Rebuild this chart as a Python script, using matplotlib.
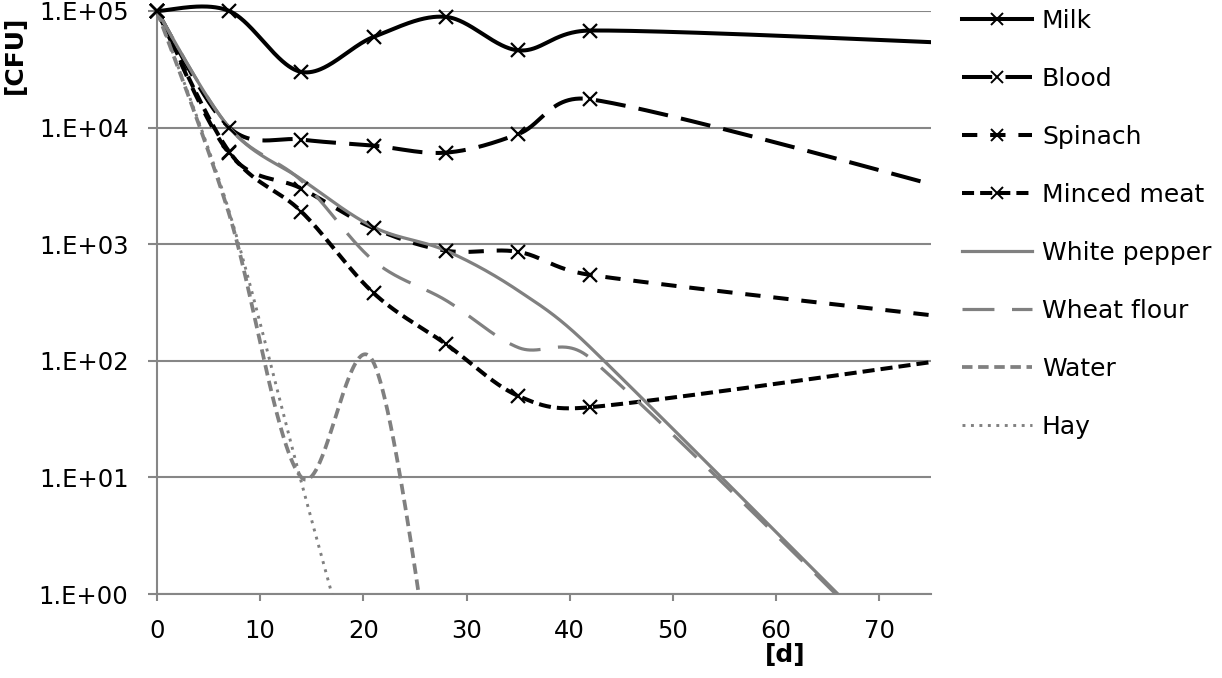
import numpy as np
import matplotlib.pyplot as plt
from matplotlib.lines import Line2D
from matplotlib.patches import Rectangle

plt.rcParams['font.family'] = 'DejaVu Sans'

# sampling days (last point lies beyond the visible axis)
days = [0, 7, 14, 21, 28, 35, 42, 84]
days_water = [0, 7, 14, 21, 28]
days_hay = [0, 7, 14, 21]

# CFU counts
milk = [1.0e5, 1.0e5, 3.0e4, 6.0e4, 8.9e4, 4.6e4, 6.8e4, 5.0e4]
blood = [1.0e5, 1.0e4, 7.9e3, 7.0e3, 6.1e3, 8.8e3, 1.75e4, 2.0e3]
spinach = [1.0e5, 6.0e3, 3.0e3, 1.37e3, 880, 860, 545, 200]
minced_meat = [1.0e5, 6.2e3, 1.9e3, 380, 139, 50, 40, 126]
white_pepper = [1.0e5, 1.0e4, 3.6e3, 1.4e3, 880, 400, 130, 0.025]
wheat_flour = [1.0e5, 1.0e4, 3.5e3, 720, 330, 130, 105, 0.025]
water = [1.0e5, 1.8e3, 10, 96, 0.025]
hay = [1.0e5, 1.9e3, 9, 0.05]

names = ['Milk', 'Blood', 'Spinach', 'Minced meat', 'White pepper',
         'Wheat flour', 'Water', 'Hay']
yticks = [1, 10, 100, 1000, 1e4, 1e5]
ytick_labels = ['1.E+00', '1.E+01', '1.E+02', '1.E+03', '1.E+04', '1.E+05']

# pixel scale of the plot area, used so the smoothing behaves like Excel's
PX_DAY = 10.31
PX_DEC = 116.6


def excel_smooth(x, y, n=80):
    p = np.column_stack([np.asarray(x, float) * PX_DAY,
                         np.log10(np.asarray(y, float)) * PX_DEC])
    m = len(p)
    out = []
    for i in range(m - 1):
        p0, p1, p2, p3 = p[max(i - 1, 0)], p[i], p[i + 1], p[min(i + 2, m - 1)]
        half = np.hypot(*(p2 - p1)) / 2
        d1 = (p2 - p0) / 6
        d2 = (p3 - p1) / 6
        if np.hypot(*d1) > half:
            d1 = d1 * half / np.hypot(*d1)
        if np.hypot(*d2) > half:
            d2 = d2 * half / np.hypot(*d2)
        c1, c2 = p1 + d1, p2 - d2
        t = np.linspace(0, 1, n)[:, None]
        seg = (1 - t) ** 3 * p1 + 3 * (1 - t) ** 2 * t * c1 \
            + 3 * (1 - t) * t ** 2 * c2 + t ** 3 * p2
        out.append(seg if i == 0 else seg[1:])
    s = np.vstack(out)
    return s[:, 0] / PX_DAY, 10 ** (s[:, 1] / PX_DEC)


gray = '#808080'
series = [
    (days, milk, dict(color='black', lw=2.9, ls='-'), True),
    (days, blood, dict(color='black', lw=2.9, ls=(0, (7.5, 3.3))), True),
    (days, spinach, dict(color='black', lw=2.9, ls=(0, (3.8, 3.2))), True),
    (days, minced_meat, dict(color='black', lw=2.9, ls=(0, (3.0, 1.5))), True),
    (days, white_pepper, dict(color=gray, lw=2.3, ls='-'), False),
    (days, wheat_flour, dict(color=gray, lw=2.3, ls=(0, (10, 5.5))), False),
    (days_water, water, dict(color=gray, lw=2.7, ls=(0, (2.8, 1.5))), False),
    (days_hay, hay, dict(color=gray, lw=2.1, ls=(0, (1, 1.9))), False),
]

fig = plt.figure(figsize=(12.22, 6.78), dpi=100)
ax = fig.add_axes([157 / 1222, 1 - 594 / 678, (931 - 157) / 1222, (594 - 11) / 678])
ax.set_yscale('log')
ax.set_xlim(0, 75)
ax.set_ylim(1, 1e5)

clip = Rectangle((-0.01, 0), 1.01, 1.05, transform=ax.transAxes)
handles = []
for (xd, yd, st, mark), name in zip(series, names):
    sx, sy = excel_smooth(xd, yd)
    line, = ax.plot(sx, sy, color=st['color'], lw=st['lw'], linestyle=st['ls'],
                    dash_capstyle='butt', solid_capstyle='butt', zorder=3)
    line.set_clip_path(clip)
    if mark:
        vx = [a for a in xd if a <= 75]
        vy = yd[:len(vx)]
        ax.plot(vx, vy, 'x', color=st['color'], ms=10, mew=1.6,
                clip_on=False, zorder=4)
    handles.append(Line2D([], [], color=st['color'], lw=st['lw'],
                          linestyle=st['ls'], dash_capstyle='butt',
                          marker='x' if mark else None, ms=8, mew=1.4,
                          label=name))

for y in yticks:
    ax.axhline(y, color='#868686', lw=1.5, zorder=1)

ax.set_yticks(yticks)
ax.set_yticklabels(ytick_labels)
ax.yaxis.set_minor_locator(plt.NullLocator())
ax.set_xticks(range(0, 80, 10))
for s in ['top', 'right']:
    ax.spines[s].set_visible(False)
for s in ['left', 'bottom']:
    ax.spines[s].set_color('#868686')
    ax.spines[s].set_linewidth(1.5)
ax.tick_params(axis='x', direction='out', length=5, width=1.5, color='#868686',
               labelsize=17.5, pad=13)
ax.tick_params(axis='y', direction='out', length=6.5, width=1.5, color='#868686',
               labelsize=17.5, pad=14)

fig.text(15 / 1222, 1 - 55 / 678, '[CFU]', rotation=90, fontsize=18,
         fontweight='bold', ha='center', va='center')
fig.text(785 / 1222, 1 - 655 / 678, '[d]', fontsize=18, fontweight='bold',
         ha='center', va='center')

ax.legend(handles=handles, loc='upper left', bbox_to_anchor=(962 / 1222, 1 - 9 / 678),
          bbox_transform=fig.transFigure, frameon=False, fontsize=18,
          handlelength=2.8, handletextpad=0.4, labelspacing=1.36,
          borderpad=0, borderaxespad=0)

fig.savefig('out.png', dpi=100)
